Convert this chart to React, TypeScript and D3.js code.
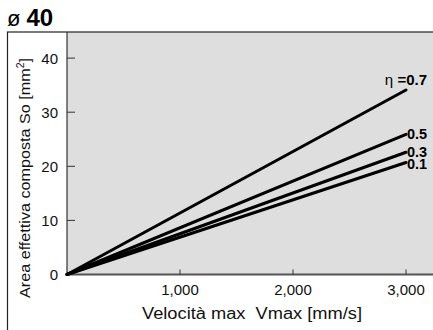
import React from 'react';
import * as d3 from 'd3';

const etaLabels = ['0.7', '0.5', '0.3', '0.1'];
const vmaxPoints = [0, 3000];
const areaSeries = [
  [0, 34.1],
  [0, 25.9],
  [0, 22.6],
  [0, 20.7],
];
const xTicks = [1000, 2000, 3000];
const yTicks = [0, 10, 20, 30, 40];

const W = 433;
const H = 330;
const font = 'Liberation Sans, Arial, Helvetica, sans-serif';

export default function App() {
  const left = 67;
  const top = 32;
  const bottom = 274.5;
  const x = d3.scaleLinear().domain([0, 1000]).range([left, left + 113]);
  const y = d3.scaleLinear().domain([0, 10]).range([bottom, bottom - 54.1]);
  const line = d3
    .line<[number, number]>()
    .x((d) => x(d[0]))
    .y((d) => y(d[1]));
  const fmt = d3.format(',');

  return (
    <svg
      width={W}
      height={H}
      style={{ position: 'absolute', left: 0, top: 0 }}
      fontFamily={font}
    >
      <rect x={0} y={0} width={W} height={H} fill="#fff" />
      <text x={7} y={26} fill="#000">
        <tspan fontSize={22}>ø</tspan>
        <tspan dx={6} fontSize={24} fontWeight="bold">40</tspan>
      </text>
      <rect x={left} y={top} width={W - left + 5} height={bottom - top} fill="#dedede" />
      <rect x={7.5} y={top} width={W} height={H} fill="none" stroke="#222" strokeWidth={1.2} />
      <line x1={left} x2={left} y1={top} y2={bottom} stroke="#333" strokeWidth={1.2} />
      <line x1={left} x2={W} y1={bottom} y2={bottom} stroke="#555" strokeWidth={2} />
      {yTicks.map((t) => (
        <g key={t}>
          {t > 0 && (
            <line x1={left} x2={left + 8} y1={y(t)} y2={y(t)} stroke="#333" strokeWidth={1} />
          )}
          <text x={left - 9} y={y(t) + 5.5} fontSize={15} textAnchor="end" fill="#111">
            {t}
          </text>
        </g>
      ))}
      {xTicks.map((t) => (
        <g key={t}>
          <line x1={x(t)} x2={x(t)} y1={bottom} y2={bottom - 5} stroke="#333" strokeWidth={1} />
          <text x={x(t)} y={bottom + 20} fontSize={15} textAnchor="middle" fill="#111">
            {fmt(t)}
          </text>
        </g>
      ))}
      <text
        x={142}
        y={319}
        fontSize={16}
        fill="#111"
        xmlSpace="preserve"
        textLength={220}
        lengthAdjust="spacingAndGlyphs"
      >
        Velocità max  Vmax [mm/s]
      </text>
      <text
        transform={`translate(30,178) rotate(-90)`}
        fontSize={15.5}
        textAnchor="middle"
        fill="#111"
        textLength={240}
        lengthAdjust="spacingAndGlyphs"
      >
        Area effettiva composta So [mm<tspan fontSize={10} dy={-6}>2</tspan>
        <tspan dy={6}>]</tspan>
      </text>
      {areaSeries.map((s, i) => {
        const pts = vmaxPoints.map((v, j) => [v, s[j]] as [number, number]);
        return (
          <path key={i} d={line(pts) || ''} fill="none" stroke="#000" strokeWidth={3} strokeLinecap="round" />
        );
      })}
      {areaSeries.map((s, i) => {
        const ex = x(vmaxPoints[1]);
        const ey = y(s[1]);
        if (i === 0) {
          return (
            <text key={i} x={427} y={ey - 5} fontSize={15} textAnchor="end" fill="#000">
              <tspan>η </tspan>
              <tspan fontWeight="bold">={etaLabels[i]}</tspan>
            </text>
          );
        }
        return (
          <text key={i} x={ex + 1} y={ey + 5 + (i === 3 ? 1 : 0)} fontSize={14.5} fontWeight="bold" fill="#000">
            {etaLabels[i]}
          </text>
        );
      })}
    </svg>
  );
}
